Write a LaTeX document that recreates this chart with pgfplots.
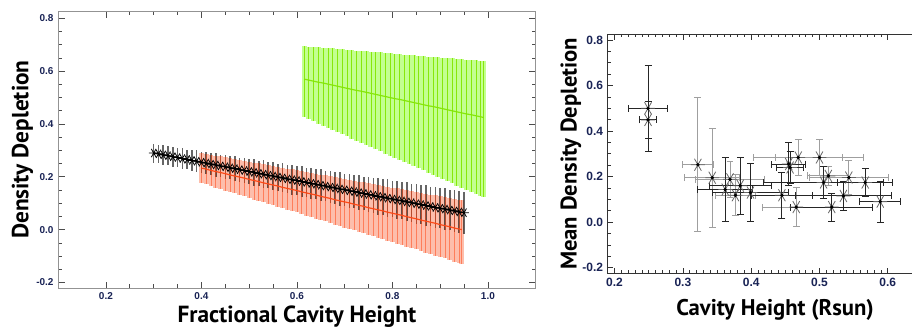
\documentclass[border=0pt]{standalone}
\usepackage{fontspec}
\setmainfont{PT Sans}
\newfontfamily\tickfont{Liberation Sans}
\usepackage{pgfplots}
\usepackage{pgfplotstable}
\pgfplotsset{compat=1.18}
\definecolor{redbright}{RGB}{255,75,25}
\definecolor{redlight}{RGB}{253,190,172}
\definecolor{greenbright}{RGB}{135,232,10}
\definecolor{greenlight}{RGB}{195,255,145}
\definecolor{ticknavy}{RGB}{25,35,85}

\pgfplotstableread{
x y e
0.30 0.290 0.036
0.31 0.287 0.034
0.32 0.283 0.037
0.33 0.280 0.035
0.34 0.276 0.038
0.35 0.273 0.036
0.36 0.269 0.040
0.37 0.266 0.037
0.38 0.262 0.039
0.39 0.259 0.041
0.40 0.255 0.040
0.41 0.252 0.043
0.42 0.248 0.041
0.43 0.245 0.044
0.44 0.241 0.042
0.45 0.238 0.046
0.46 0.234 0.043
0.47 0.231 0.047
0.48 0.227 0.045
0.49 0.224 0.049
0.50 0.220 0.046
0.51 0.217 0.050
0.52 0.213 0.048
0.53 0.210 0.052
0.54 0.206 0.049
0.55 0.203 0.053
0.56 0.199 0.051
0.57 0.196 0.055
0.58 0.192 0.052
0.59 0.189 0.056
0.60 0.186 0.054
0.61 0.182 0.058
0.62 0.179 0.055
0.63 0.175 0.059
0.64 0.172 0.057
0.65 0.168 0.061
0.66 0.165 0.058
0.67 0.161 0.062
0.68 0.158 0.060
0.69 0.154 0.064
0.70 0.151 0.061
0.71 0.147 0.065
0.72 0.144 0.063
0.73 0.140 0.067
0.74 0.137 0.064
0.75 0.133 0.068
0.76 0.130 0.066
0.77 0.126 0.070
0.78 0.123 0.067
0.79 0.119 0.071
0.80 0.116 0.069
0.81 0.112 0.073
0.82 0.109 0.070
0.83 0.105 0.074
0.84 0.102 0.072
0.85 0.098 0.076
0.86 0.095 0.073
0.87 0.091 0.077
0.88 0.088 0.075
0.89 0.084 0.078
0.90 0.081 0.076
0.91 0.078 0.079
0.92 0.074 0.077
0.93 0.071 0.080
0.94 0.067 0.078
0.95 0.064 0.080
}\blackdata

\pgfplotstableread{
x y ep em
0.40 0.233 0.057 0.057
0.41 0.229 0.058 0.058
0.42 0.224 0.059 0.060
0.43 0.220 0.060 0.061
0.44 0.216 0.061 0.062
0.45 0.212 0.062 0.064
0.46 0.207 0.063 0.065
0.47 0.203 0.064 0.066
0.48 0.199 0.065 0.068
0.49 0.195 0.066 0.069
0.50 0.190 0.067 0.070
0.51 0.186 0.068 0.072
0.52 0.182 0.069 0.073
0.53 0.177 0.070 0.074
0.54 0.173 0.071 0.075
0.55 0.169 0.072 0.077
0.56 0.165 0.073 0.078
0.57 0.160 0.074 0.079
0.58 0.156 0.075 0.081
0.59 0.152 0.076 0.082
0.60 0.148 0.077 0.083
0.61 0.143 0.078 0.085
0.62 0.139 0.079 0.086
0.63 0.135 0.080 0.087
0.64 0.131 0.081 0.089
0.65 0.126 0.082 0.090
0.66 0.122 0.083 0.091
0.67 0.118 0.084 0.093
0.68 0.113 0.085 0.094
0.69 0.109 0.086 0.095
0.70 0.105 0.087 0.097
0.71 0.101 0.088 0.098
0.72 0.096 0.089 0.099
0.73 0.092 0.090 0.101
0.74 0.088 0.091 0.102
0.75 0.083 0.092 0.103
0.76 0.079 0.093 0.105
0.77 0.075 0.094 0.106
0.78 0.071 0.095 0.107
0.79 0.066 0.096 0.108
0.80 0.062 0.097 0.110
0.81 0.058 0.098 0.111
0.82 0.054 0.099 0.112
0.83 0.049 0.100 0.114
0.84 0.045 0.101 0.115
0.85 0.041 0.102 0.116
0.86 0.036 0.103 0.118
0.87 0.032 0.104 0.119
0.88 0.028 0.105 0.120
0.89 0.024 0.106 0.122
0.90 0.019 0.107 0.123
0.91 0.015 0.107 0.124
0.92 0.011 0.108 0.126
0.93 0.006 0.109 0.127
0.94 0.002 0.110 0.128
0.945 0.000 0.111 0.129
}\reddata

\pgfplotstableread{
x y ep em
0.615 0.570 0.125 0.144
0.625 0.566 0.127 0.148
0.635 0.562 0.130 0.152
0.645 0.558 0.132 0.157
0.655 0.555 0.134 0.161
0.665 0.551 0.137 0.165
0.675 0.547 0.139 0.169
0.685 0.543 0.141 0.173
0.695 0.539 0.144 0.178
0.705 0.535 0.146 0.182
0.715 0.531 0.149 0.186
0.725 0.527 0.151 0.190
0.735 0.524 0.153 0.195
0.745 0.520 0.156 0.199
0.755 0.516 0.158 0.203
0.765 0.512 0.160 0.207
0.775 0.508 0.163 0.211
0.785 0.504 0.165 0.216
0.795 0.500 0.167 0.220
0.805 0.496 0.170 0.224
0.815 0.493 0.172 0.228
0.825 0.489 0.174 0.232
0.835 0.485 0.177 0.237
0.845 0.481 0.179 0.241
0.855 0.477 0.181 0.245
0.865 0.473 0.184 0.249
0.875 0.469 0.186 0.253
0.885 0.466 0.188 0.258
0.895 0.462 0.191 0.262
0.905 0.458 0.193 0.266
0.915 0.454 0.196 0.270
0.925 0.450 0.198 0.274
0.935 0.446 0.200 0.279
0.945 0.442 0.203 0.283
0.955 0.438 0.205 0.287
0.965 0.435 0.207 0.291
0.975 0.431 0.210 0.295
0.985 0.427 0.212 0.300
0.990 0.425 0.213 0.302
}\greendata

\pgfplotstableread{
x y ex ey
0.249 0.500 0.029 0.190
0.249 0.449 0.012 0.080
0.362 0.143 0.040 0.140
0.384 0.160 0.045 0.125
0.399 0.130 0.055 0.127
0.445 0.118 0.045 0.100
0.455 0.255 0.025 0.095
0.457 0.240 0.020 0.070
0.506 0.174 0.088 0.070
0.535 0.115 0.070 0.065
0.518 0.066 0.060 0.062
0.589 0.090 0.030 0.090
0.567 0.174 0.040 0.060
}\rblack

\pgfplotstableread{
x y ex ey
0.322 0.252 0.023 0.295
0.343 0.195 0.040 0.217
0.369 0.188 0.050 0.080
0.377 0.118 0.030 0.090
0.469 0.284 0.065 0.080
0.500 0.284 0.065 0.080
0.513 0.203 0.030 0.040
0.543 0.196 0.058 0.075
0.466 0.066 0.050 0.085
}\rgrey

\begin{document}
\begin{tikzpicture}
\useasboundingbox (0,0) rectangle (684pt,249pt);
\pgfplotsset{
  every axis/.append style={
    scale only axis,
    anchor=south west,
    tick align=inside,
    /pgf/number format/assume math mode=true,
    /pgf/number format/fixed,
    /pgf/number format/fixed zerofill,
    /pgf/number format/precision=1,
  },
  barsonly/.style={only marks, mark=*, mark size=0pt,
    mark options={draw=none, fill=none}},
}
\begin{axis}[
  at={(43.65pt,32.8pt)},
  width=358.1pt, height=208pt,
  xmin=0.1, xmax=1.1, ymin=-0.222, ymax=0.828,
  xtick={0.2,0.4,0.6,0.8,1.0},
  ytick={-0.2,0,0.2,0.4,0.6,0.8},
  minor tick num=3,
  major tick length=5pt, minor tick length=3pt,
  axis line style={gray!85},
  tick style={gray!60!black, line width=0.5pt},
  ticklabel style={font=\tickfont\bfseries\fontsize{7.5}{8}\selectfont, text=ticknavy},
  xlabel={Fractional Cavity Height},
  ylabel={Density Depletion},
  label style={font=\bfseries\fontsize{17.5}{19}\selectfont},
  xlabel style={yshift=2.5pt},
  ylabel style={yshift=-4.5pt},
]
% red band
\addplot[barsonly, error bars/.cd, y dir=both, y explicit,
  error mark=none, error bar style={line width=3.6pt, redlight}]
  table[x=x, y=y, y error plus=ep, y error minus=em] {\reddata};
% black error bars
\addplot[barsonly, error bars/.cd, y dir=both, y explicit,
  error mark=none, error bar style={line width=1.2pt, black, opacity=0.6}]
  table[x=x, y=y, y error=e] {\blackdata};
% red bright bars
\addplot[barsonly, error bars/.cd, y dir=both, y explicit,
  error mark=none, error bar style={line width=0.6pt, redbright, opacity=0.55}]
  table[x=x, y=y, y error plus=ep, y error minus=em] {\reddata};
% black line with marks
\addplot[black, line width=1pt, mark=asterisk, mark size=3.6pt,
  mark options={rotate=90, line width=0.6pt, black}]
  table[x=x, y=y] {\blackdata};
% red line
\addplot[redbright, line width=0.9pt, mark=none] table[x=x, y=y] {\reddata};
% green band
\addplot[barsonly, error bars/.cd, y dir=both, y explicit,
  error mark=none, error bar style={line width=3.7pt, greenlight}]
  table[x=x, y=y, y error plus=ep, y error minus=em] {\greendata};
\addplot[barsonly, error bars/.cd, y dir=both, y explicit,
  error mark=none, error bar style={line width=0.6pt, greenbright}]
  table[x=x, y=y, y error plus=ep, y error minus=em] {\greendata};
\addplot[greenbright, line width=0.9pt, mark=none] table[x=x, y=y] {\greendata};
\end{axis}

\begin{axis}[
  at={(455.8pt,44pt)},
  width=251pt, height=179.25pt,
  xmin=0.19, xmax=0.68, ymin=-0.225, ymax=0.825,
  xtick={0.2,0.3,0.4,0.5,0.6},
  ytick={-0.2,0,0.2,0.4,0.6,0.8},
  minor x tick num=9, minor y tick num=3,
  major tick length=4pt, minor tick length=2.2pt,
  axis line style={black!80, line width=0.6pt},
  tick style={black!80, line width=0.5pt},
  ticklabel style={font=\tickfont\bfseries\fontsize{9}{10}\selectfont, text=ticknavy},
  xlabel={Cavity Height (Rsun)},
  ylabel={Mean Density Depletion},
  label style={font=\bfseries\fontsize{17}{19}\selectfont},
  xlabel style={yshift=-3pt},
  ylabel style={yshift=-6pt},
]
\addplot[only marks, mark=asterisk, mark size=5.2pt,
  mark options={rotate=90, gray!80!black, line width=0.6pt},
  error bars/.cd, x dir=both, x explicit, y dir=both, y explicit,
  error bar style={gray!75, line width=0.7pt},
  error mark options={rotate=90, gray!75, mark size=2.6pt, line width=0.7pt}]
  table[x=x, y=y, x error=ex, y error=ey] {\rgrey};
\addplot[only marks, mark=asterisk, mark size=5.2pt,
  mark options={rotate=90, gray!80!black, line width=0.6pt},
  error bars/.cd, x dir=both, x explicit, y dir=both, y explicit,
  error bar style={black!85, line width=0.7pt},
  error mark options={rotate=90, black!85, mark size=2.6pt, line width=0.7pt}]
  table[x=x, y=y, x error=ex, y error=ey] {\rblack};
\addplot[only marks, mark=*, mark size=1.1pt, black] table[x=x, y=y] {\rblack};
\addplot[only marks, mark=*, mark size=1.1pt, black] table[x=x, y=y] {\rgrey};
\end{axis}
\end{tikzpicture}
\end{document}
